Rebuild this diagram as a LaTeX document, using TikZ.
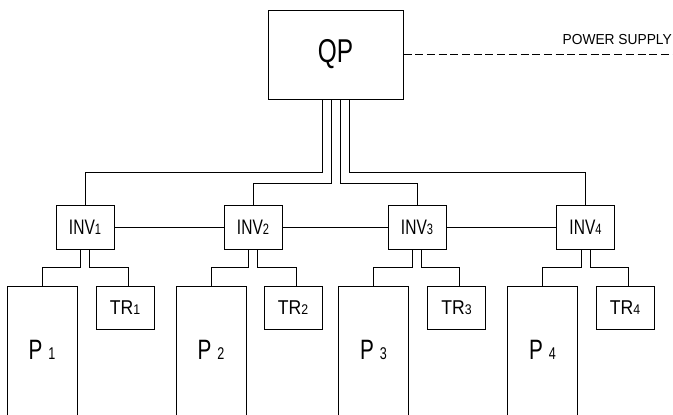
\documentclass[tikz,border=0pt]{standalone}
\usepackage{fontspec}
\newfontfamily\cadfont[FakeStretch=0.74]{Liberation Sans}
\newfontfamily\cadmid[FakeStretch=0.88]{Liberation Sans}
\newfontfamily\cadwide[FakeStretch=0.95]{Liberation Sans}
\usetikzlibrary{positioning,calc}
\newcommand{\digit}[2]{{\fontsize{#1}{#1}\selectfont #2}}

\tikzset{
	wire/.style={line width=0.7pt},
	qpbox/.style={draw, line width=1pt, minimum width=135pt, minimum height=89pt, inner sep=0pt, font=\cadfont\fontsize{33pt}{33pt}\selectfont},
	invbox/.style={draw, line width=0.8pt, minimum width=58pt, minimum height=44pt, inner sep=0pt, font=\cadfont\fontsize{21pt}{21pt}\selectfont},
	trbox/.style={draw, line width=0.8pt, minimum width=58pt, minimum height=43pt, inner sep=0pt, anchor=north, font=\cadmid\fontsize{20pt}{20pt}\selectfont},
	pbox/.style={draw, line width=0.8pt, minimum width=70pt, minimum height=150pt, inner sep=0pt, anchor=north},
	plabel/.style={anchor=center, yshift=-64pt, font=\cadfont\fontsize{28pt}{28pt}\selectfont},
}

\begin{document}
\begin{tikzpicture}[x=1pt,y=-1pt]
	\useasboundingbox (0,0) rectangle (673,415);
	\clip (0,0) rectangle (673,415);
	% panel and supply
	\node[qpbox] (qp) at (335.5,54.5) {QP};
	\coordinate (ps) at (673,0);
	\node[anchor=base east, inner sep=0pt, font=\cadwide\fontsize{14.5pt}{14.5pt}\selectfont] (supply) at (672,45) {POWER SUPPLY};
	\draw[wire, dash pattern=on 8pt off 3.7pt] (qp.east) -- (qp.east -| ps);
	% inverters
	\node[invbox] (inv1) at (85,227) {INV\digit{15pt}{1}};
	\node[invbox] (inv2) at (253,227) {INV\digit{15pt}{2}};
	\node[invbox] (inv3) at (417,227) {INV\digit{15pt}{3}};
	\node[invbox] (inv4) at (585.5,227) {INV\digit{15pt}{4}};
	% panels and trackers
	\node[pbox, label={[plabel]north:P\hspace{6pt}\digit{17pt}{1}}] (p1) at (42,286) {};
	\node[pbox, label={[plabel]north:P\hspace{6pt}\digit{17pt}{2}}] (p2) at (211,286) {};
	\node[pbox, label={[plabel]north:P\hspace{6pt}\digit{17pt}{3}}] (p3) at (373.5,286) {};
	\node[pbox, label={[plabel]north:P\hspace{6pt}\digit{17pt}{4}}] (p4) at (542.5,286) {};
	\node[trbox] (tr1) at (125,286) {TR\digit{14pt}{1}};
	\node[trbox] (tr2) at (293,286) {TR\digit{14pt}{2}};
	\node[trbox] (tr3) at (456.5,286) {TR\digit{14pt}{3}};
	\node[trbox] (tr4) at (625,286) {TR\digit{14pt}{4}};
	% feeders from QP
	\draw[wire] ([xshift=-13.5pt]qp.south) -- ++(0,73) -| (inv1.north);
	\draw[wire] ([xshift=-4.5pt]qp.south) -- ++(0,84) -| (inv2.north);
	\draw[wire] ([xshift=4.5pt]qp.south) -- ++(0,84) -| (inv3.north);
	\draw[wire] ([xshift=13.5pt]qp.south) -- ++(0,73) -| (inv4.north);
	% inverter bus
	\draw[wire] (inv1) -- (inv2);
	\draw[wire] (inv2) -- (inv3);
	\draw[wire] (inv3) -- (inv4);
	% outputs
	\draw[wire] ([xshift=-4.5pt]inv1.south) -- ++(0,18) -| (p1.north);
	\draw[wire] ([xshift=4.5pt]inv1.south) -- ++(0,18) -| ([xshift=3pt]tr1.north);
	\draw[wire] ([xshift=-4.5pt]inv2.south) -- ++(0,18) -| (p2.north);
	\draw[wire] ([xshift=4.5pt]inv2.south) -- ++(0,18) -| ([xshift=3pt]tr2.north);
	\draw[wire] ([xshift=-4.5pt]inv3.south) -- ++(0,18) -| (p3.north);
	\draw[wire] ([xshift=4.5pt]inv3.south) -- ++(0,18) -| ([xshift=3pt]tr3.north);
	\draw[wire] ([xshift=-4.5pt]inv4.south) -- ++(0,18) -| (p4.north);
	\draw[wire] ([xshift=4.5pt]inv4.south) -- ++(0,18) -| ([xshift=3pt]tr4.north);
\end{tikzpicture}
\end{document}
